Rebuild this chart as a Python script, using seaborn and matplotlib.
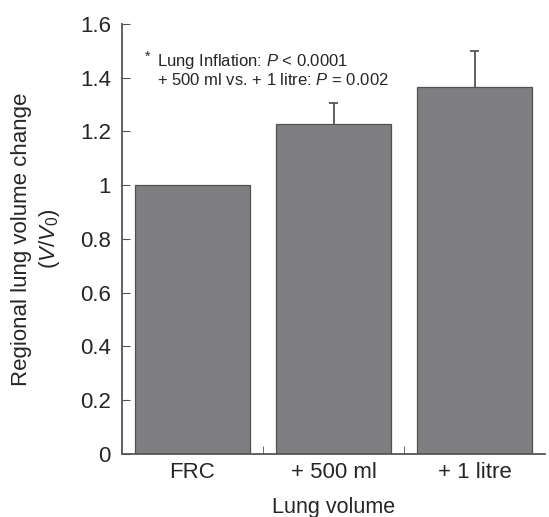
import numpy as np
import pandas as pd
import matplotlib
matplotlib.use('Agg')
import matplotlib.pyplot as plt
import seaborn as sns

# data
categories = ['FRC', '+ 500 ml', '+ 1 litre']
means = [1.0, 1.227, 1.364]
sd_upper = [0.0, 0.078, 0.134]

sns.set_style('ticks')
plt.rcParams['font.family'] = ['Liberation Sans', 'DejaVu Sans']
plt.rcParams['mathtext.fontset'] = 'custom'
plt.rcParams['mathtext.rm'] = 'Liberation Sans'
plt.rcParams['mathtext.it'] = 'Liberation Sans:italic'

df = pd.DataFrame({'volume': categories, 'ratio': means})

fig = plt.figure(figsize=(5.49, 5.17), dpi=100)
ax = fig.add_axes([0.222, 0.122, 0.771, 0.832])

sns.barplot(data=df, x='volume', y='ratio', color='#7f7f81', saturation=1,
            width=0.81, edgecolor='#505050', linewidth=0.9, errorbar=None, ax=ax)

# upward-only error bars with a small cap
x = np.arange(len(categories))
for xi, m, e in zip(x, means, sd_upper):
    if e > 0:
        ax.vlines(xi, m, m + e, color='#555555', lw=1.3)
        ax.hlines(m + e, xi - 0.03, xi + 0.03, color='#555555', lw=1.3)

ax.set_xlim(-0.5, 2.5)
ax.set_ylim(0, 1.6)
ax.set_yticks(np.arange(0, 1.61, 0.2))
ax.set_yticklabels(['0', '0.2', '0.4', '0.6', '0.8', '1', '1.2', '1.4', '1.6'])
ax.set_xticks(x)
ax.set_xticklabels(categories)
ax.set_xticks([0.5, 1.5], minor=True)
ax.tick_params(axis='x', which='major', length=0, labelsize=16, pad=6)
ax.tick_params(axis='x', which='minor', direction='in', length=6, color='#555555')
ax.tick_params(axis='y', direction='in', length=6, labelsize=16, color='#555555', pad=8)

for s in ['top', 'right']:
    ax.spines[s].set_visible(False)
for s in ['left', 'bottom']:
    ax.spines[s].set_color('#555555')
    ax.spines[s].set_linewidth(1.3)

ax.set_xlabel('Lung volume', fontsize=15.5, labelpad=10)
ax.set_ylabel('Regional lung volume change\n($\\mathit{V/V_0}$)', fontsize=16,
              labelpad=12.5, linespacing=1.3)

ax.text(0.055, 0.94, '*', transform=ax.transAxes, fontsize=10, va='top', ha='left')
ax.text(0.083, 0.935, 'Lung Inflation: $\\mathit{P}$ < 0.0001\n+ 500 ml vs. + 1 litre: $\\mathit{P}$ = 0.002',
        transform=ax.transAxes, fontsize=12, va='top', ha='left', linespacing=1.12)

fig.savefig('out.png', dpi=100)
